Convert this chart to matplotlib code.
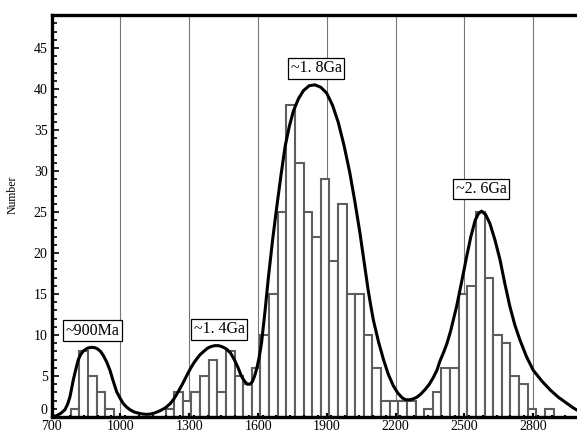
import numpy as np
import matplotlib
matplotlib.use('Agg')
import matplotlib.pyplot as plt
from matplotlib.ticker import MultipleLocator

# histogram: 56 bins of ~37.6 Ma starting at 783 Ma
bin_start = 783
bin_width = 37.6
counts = [1, 8, 5, 3, 1, 0, 0, 0, 0, 0, 0,
          1, 3, 2, 3, 5, 7, 3, 8, 5, 4, 6,
          10, 15, 25, 38, 31, 25, 22, 29, 19, 26, 15, 15, 10, 6,
          2, 2, 2, 2, 0,
          1, 3, 6, 6, 15, 16, 25, 17, 10, 9, 5, 4, 1, 0, 1]

# probability density curve (age Ma, scaled value)
curve_age = [700, 720, 740, 758, 770, 780, 794, 805, 816, 828, 840, 857, 874,
             888, 900, 913, 925, 940, 954, 968, 983, 1000, 1013, 1027, 1043,
             1060, 1080, 1100, 1115, 1130, 1150, 1172, 1195, 1216, 1233, 1250,
             1270, 1288, 1305, 1320, 1333, 1347, 1363, 1380, 1396, 1412, 1427,
             1440, 1452, 1462, 1480, 1498, 1513, 1527, 1540, 1553, 1565, 1575,
             1585, 1595, 1605, 1615, 1630, 1645, 1663, 1681, 1700, 1718, 1736,
             1754, 1776, 1798, 1823, 1848, 1874, 1899, 1925, 1950, 1975, 2000,
             2022, 2044, 2062, 2080, 2092, 2103, 2125, 2147, 2168, 2190, 2210,
             2230, 2245, 2260, 2276, 2292, 2310, 2330, 2347, 2364, 2380, 2393,
             2408, 2423, 2440, 2453, 2466, 2488, 2510, 2528, 2547, 2561, 2575,
             2592, 2611, 2633, 2655, 2676, 2698, 2720, 2742, 2770, 2800, 2837,
             2874, 2910, 2945, 2975, 3000]
curve_val = [0.0, 0.15, 0.45, 0.9, 1.6, 2.5, 4.5, 5.8, 7.0, 7.7, 8.1, 8.4, 8.5,
             8.45, 8.3, 8.0, 7.5, 6.7, 5.7, 4.4, 3.1, 2.2, 1.6, 1.2, 0.85,
             0.6, 0.45, 0.35, 0.32, 0.35, 0.5, 0.75, 1.1, 1.6, 2.2, 3.0,
             4.0, 5.0, 5.9, 6.6, 7.1, 7.6, 8.0, 8.4, 8.6, 8.7, 8.7,
             8.6, 8.45, 8.3, 7.8, 6.9, 6.0, 5.0, 4.4, 4.0, 4.0, 4.3,
             5.0, 6.0, 7.3, 9.0, 12.8, 17.0, 21.5, 25.5, 29.5, 33.0, 35.4,
             37.3, 38.8, 39.8, 40.4, 40.5, 40.2, 39.5, 38.0, 35.9, 33.1, 29.8,
             26.3, 22.5, 19.0, 15.5, 13.5, 11.8, 9.2, 7.0, 5.2, 3.8, 2.9,
             2.3, 2.1, 2.1, 2.2, 2.4, 2.8, 3.4, 4.0, 4.8, 5.7, 6.8,
             7.8, 8.9, 10.5, 12.0, 13.5, 16.5, 19.6, 22.0, 24.0, 24.8, 25.1,
             24.7, 23.6, 21.6, 19.2, 16.3, 13.5, 11.2, 9.4, 7.4, 5.7, 4.4,
             3.3, 2.4, 1.7, 1.1, 0.7]

peak_labels = ['~900Ma', '~1. 4Ga', '~1. 8Ga', '~2. 6Ga']
peak_x = [878, 1430, 1853, 2572]
peak_y = [10.5, 10.7, 42.5, 27.8]

xticks = [700, 1000, 1300, 1600, 1900, 2200, 2500, 2800]

plt.rcParams['font.family'] = ['Liberation Serif', 'DejaVu Serif']

fig = plt.figure(figsize=(5.77, 4.33), dpi=100)
ax = fig.add_axes([0.0896, 0.037, 0.914, 0.928])

edges = bin_start + bin_width * np.arange(len(counts))
ax.bar(edges, counts, width=bin_width, align='edge', facecolor='white',
       edgecolor='#5e5e5e', linewidth=1.5, zorder=1)

ax.plot(curve_age, curve_val, color='black', linewidth=2.2, zorder=3,
        solid_joinstyle='round')

for xv in xticks[1:]:
    ax.axvline(xv, color='#777777', linewidth=0.8, zorder=0.5)

for s, xv, yv in zip(peak_labels, peak_x, peak_y):
    ax.text(xv, yv, s, ha='center', va='center', fontsize=11.5, zorder=6,
            bbox=dict(boxstyle='square,pad=0.15', fc='white', ec='black', lw=0.9))

ax.set_xlim(700, 3000)
ax.set_ylim(0, 49)
ax.set_xticks(xticks)
ax.set_yticks(range(0, 50, 5))
ax.set_yticklabels([str(v) for v in range(0, 50, 5)])
ax.xaxis.set_minor_locator(MultipleLocator(60))
ax.yaxis.set_minor_locator(MultipleLocator(1))

ax.tick_params(axis='y', which='major', direction='in', length=5, width=1.2,
               labelsize=10, pad=3)
ax.tick_params(axis='y', which='minor', direction='in', length=3.5, width=1.2)
ax.tick_params(axis='x', which='major', direction='in', length=3, width=1.5,
               labelsize=10, pad=2)
ax.tick_params(axis='x', which='minor', direction='in', length=1.5, width=1.5)

# the "0" on the y axis sits a little above the x axis, as in the original
ax.yaxis.get_major_ticks()[0].label1.set_verticalalignment('bottom')

for side in ['left', 'bottom', 'top']:
    ax.spines[side].set_linewidth(2.4)
ax.spines['right'].set_visible(False)

ax.set_ylabel('Number', fontsize=8.5)
ax.yaxis.set_label_coords(-0.062, 0.552)

fig.savefig('out.png', dpi=100)
